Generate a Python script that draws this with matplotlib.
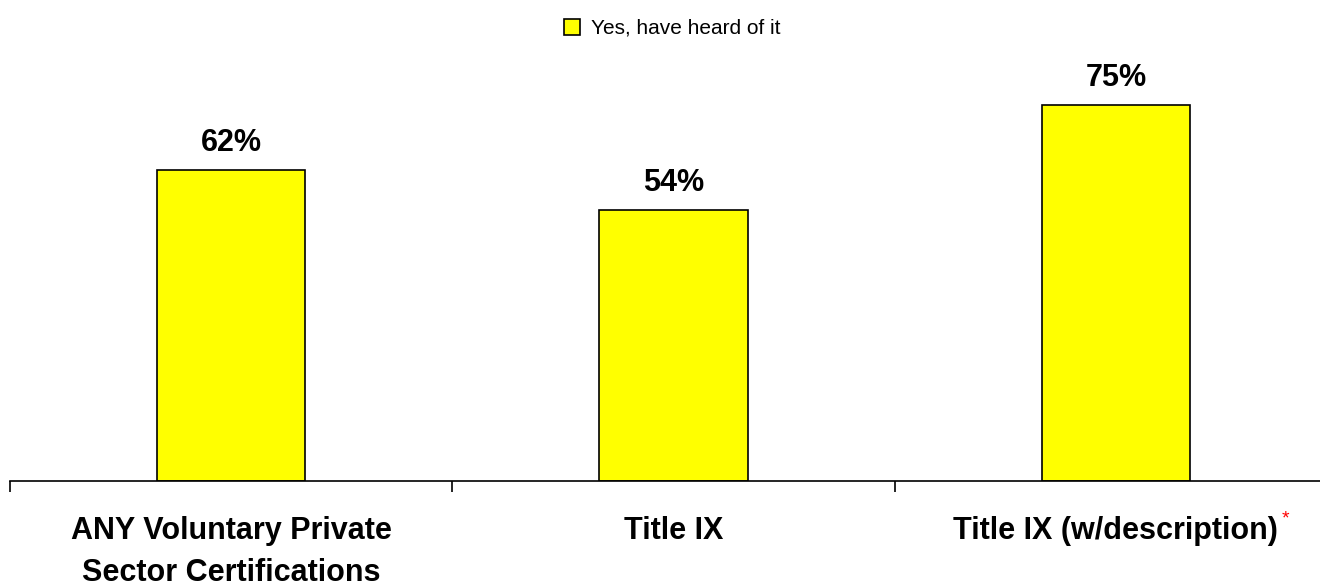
import numpy as np
import matplotlib.pyplot as plt

plt.rcParams['font.family'] = ['Liberation Sans', 'DejaVu Sans']

# data
categories = ["ANY Voluntary Private\nSector Certifications", "Title IX", "Title IX (w/description)"]
values = [62, 54, 75]
series_name = "Yes, have heard of it"

fig = plt.figure(figsize=(13.2, 5.87), dpi=100)
ax = fig.add_axes([10 / 1320, 106 / 587, 1327 / 1320, 451 / 587])

x = np.arange(len(categories))
bars = ax.bar(x, values, width=0.335, color="#FFFF00", edgecolor="black",
              linewidth=1.2, label=series_name, zorder=2)

for xi, v in zip(x, values):
    ax.annotate(f"{v}%", (xi, v), xytext=(0, 9), textcoords="offset points",
                ha="center", va="bottom", fontsize=22, fontweight="bold")

ax.set_xlim(-0.5, len(categories) - 0.5)
ax.set_ylim(0, 90)

# tick marks between categories, labels at centres
ax.set_xticks(np.arange(len(categories) + 1) - 0.5)
ax.set_xticklabels([])
ax.set_xticks(x, minor=True)
ax.set_xticklabels(categories, minor=True, fontsize=22, fontweight="bold",
                   linespacing=1.55)
ax.tick_params(axis="x", which="major", length=8, width=1.2, direction="out")
ax.tick_params(axis="x", which="minor", length=0, pad=25)
ax.set_yticks([])

for s in ["top", "right", "left"]:
    ax.spines[s].set_visible(False)
ax.spines["bottom"].set_linewidth(1.2)

fig.legend(handles=[bars], labels=[series_name], loc="upper center",
           bbox_to_anchor=(672 / 1320, 1.0), frameon=False, fontsize=15,
           handlelength=0.8, handleheight=0.8, handletextpad=0.5,
           borderaxespad=0.5)

# red asterisk after the last label
fig.canvas.draw()
lab = ax.get_xticklabels(minor=True)[-1]
bb = lab.get_window_extent()
fig.text((bb.x1 + 3) / 1320, (bb.y1 + 5) / 587, "*", color="red",
         fontsize=14, ha="left", va="top")

fig.savefig("out.png", dpi=100)
